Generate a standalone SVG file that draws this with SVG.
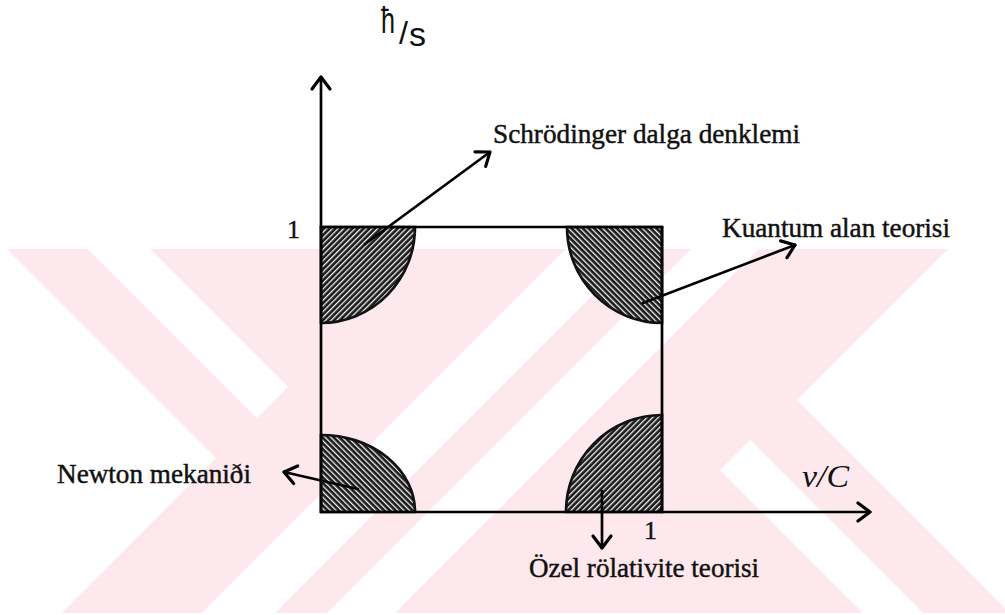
<svg xmlns="http://www.w3.org/2000/svg" width="1005" height="615" viewBox="0 0 1005 615">
<style>
.ax{stroke:#000;stroke-width:2.7;fill:none;stroke-linecap:round}
.lbl{font-family:"Liberation Serif","Times New Roman",serif;font-size:27px;fill:#111;stroke:#111;stroke-width:0.45}
.num{font-family:"Liberation Serif","Times New Roman",serif;font-size:26px;fill:#111;stroke:#111;stroke-width:0.4}
.wm{fill:#fde9ed}
.wh{fill:#fff}
.arc{stroke:#111;stroke-width:2.7}
</style>
<defs>
<pattern id="hA" width="4" height="4" patternUnits="userSpaceOnUse" patternTransform="rotate(45)">
<rect width="4" height="4" fill="#1a1a1a"/><rect x="0" y="0" width="1.3" height="4" fill="#f2f2f2"/>
</pattern>
<pattern id="hB" width="4" height="4" patternUnits="userSpaceOnUse" patternTransform="rotate(-45)">
<rect width="4" height="4" fill="#1a1a1a"/><rect x="0" y="0" width="1.3" height="4" fill="#f2f2f2"/>
</pattern>
<marker id="ah" markerUnits="userSpaceOnUse" markerWidth="30" markerHeight="30" refX="0" refY="0" viewBox="-15 -15 30 30" orient="auto" overflow="visible">
<path d="M-12,-9 L0,0 L-12,9" fill="none" stroke="#000" stroke-width="3.2" stroke-linecap="round" stroke-linejoin="round"/>
</marker>
</defs>
<rect width="1005" height="615" fill="#fff"/>
<g id="watermark">
<rect class="wm" x="7" y="249" width="998" height="364"/>
<polygon class="wh" points="0,249 7,249 216,458 60,615 0,615"/>
<polygon class="wh" points="88,249 150,249 288,387 257,418"/>
<polygon class="wh" points="815,0 888,0 273,615 200,615"/>
<polygon class="wh" points="940,0 1008,0 393,615 325,615"/>
<polygon class="wh" points="797,400 948,249 1005,249 1005,608"/>
<polygon class="wh" points="720,470 750,440 925,615 865,615"/>
<rect class="wh" x="0" y="0" width="1005" height="249"/>
<rect class="wh" x="0" y="613" width="1005" height="2"/>
</g>
<g id="corner-tl"><path d="M321,227 H415 A94,96 0 0 1 321,323 Z" fill="url(#hA)" class="arc"/></g>
<g id="corner-tr"><path d="M662,227 H567 A95,96 0 0 0 662,323 Z" fill="url(#hB)" class="arc"/></g>
<g id="corner-bl"><path d="M321,512 H415 A94,77 0 0 0 321,435 Z" fill="url(#hB)" class="arc"/></g>
<g id="corner-br"><path d="M662,512 H566 A96,97 0 0 1 662,415 Z" fill="url(#hA)" class="arc"/></g>
<g id="axes">
<line class="ax" x1="321" y1="512" x2="321" y2="77" marker-end="url(#ah)"/>
<line class="ax" x1="321" y1="512" x2="870" y2="512" marker-end="url(#ah)"/>
<line class="ax" x1="321" y1="227" x2="662" y2="227"/>
<line class="ax" x1="662" y1="227" x2="662" y2="512"/>
</g>
<g id="connectors">
<line class="ax" x1="365" y1="244" x2="490" y2="152" marker-end="url(#ah)"/>
<line class="ax" x1="643" y1="303" x2="795" y2="245" marker-end="url(#ah)"/>
<line class="ax" x1="358" y1="489" x2="284" y2="472" marker-end="url(#ah)"/>
<line class="ax" x1="602" y1="491" x2="602" y2="548" marker-end="url(#ah)"/>
</g>
<g id="labels">
<text class="lbl" x="493" y="143" textLength="307" lengthAdjust="spacingAndGlyphs">Schrödinger dalga denklemi</text>
<text class="lbl" x="722" y="237" textLength="228" lengthAdjust="spacingAndGlyphs">Kuantum alan teorisi</text>
<text class="lbl" x="57" y="483" textLength="194" lengthAdjust="spacingAndGlyphs">Newton mekaniði</text>
<text class="lbl" x="529" y="577" textLength="230" lengthAdjust="spacingAndGlyphs">Özel rölativite teorisi</text>
<text class="num" x="287" y="238">1</text>
<text class="num" x="644" y="539">1</text>
<text x="802" y="487" font-family="Liberation Serif, serif" font-style="italic" font-size="31" fill="#111" textLength="47" lengthAdjust="spacingAndGlyphs">ν/C</text>
<text x="381" y="33" font-family="Liberation Sans, sans-serif" font-size="36" fill="#111" textLength="14" lengthAdjust="spacingAndGlyphs">ħ</text>
<text x="399" y="44" font-family="Liberation Sans, sans-serif" font-size="32" fill="#111" textLength="9" lengthAdjust="spacingAndGlyphs">/</text>
<text x="409" y="46" font-family="Liberation Sans, sans-serif" font-size="34" fill="#111" textLength="17" lengthAdjust="spacingAndGlyphs">s</text>
</g>
</svg>
